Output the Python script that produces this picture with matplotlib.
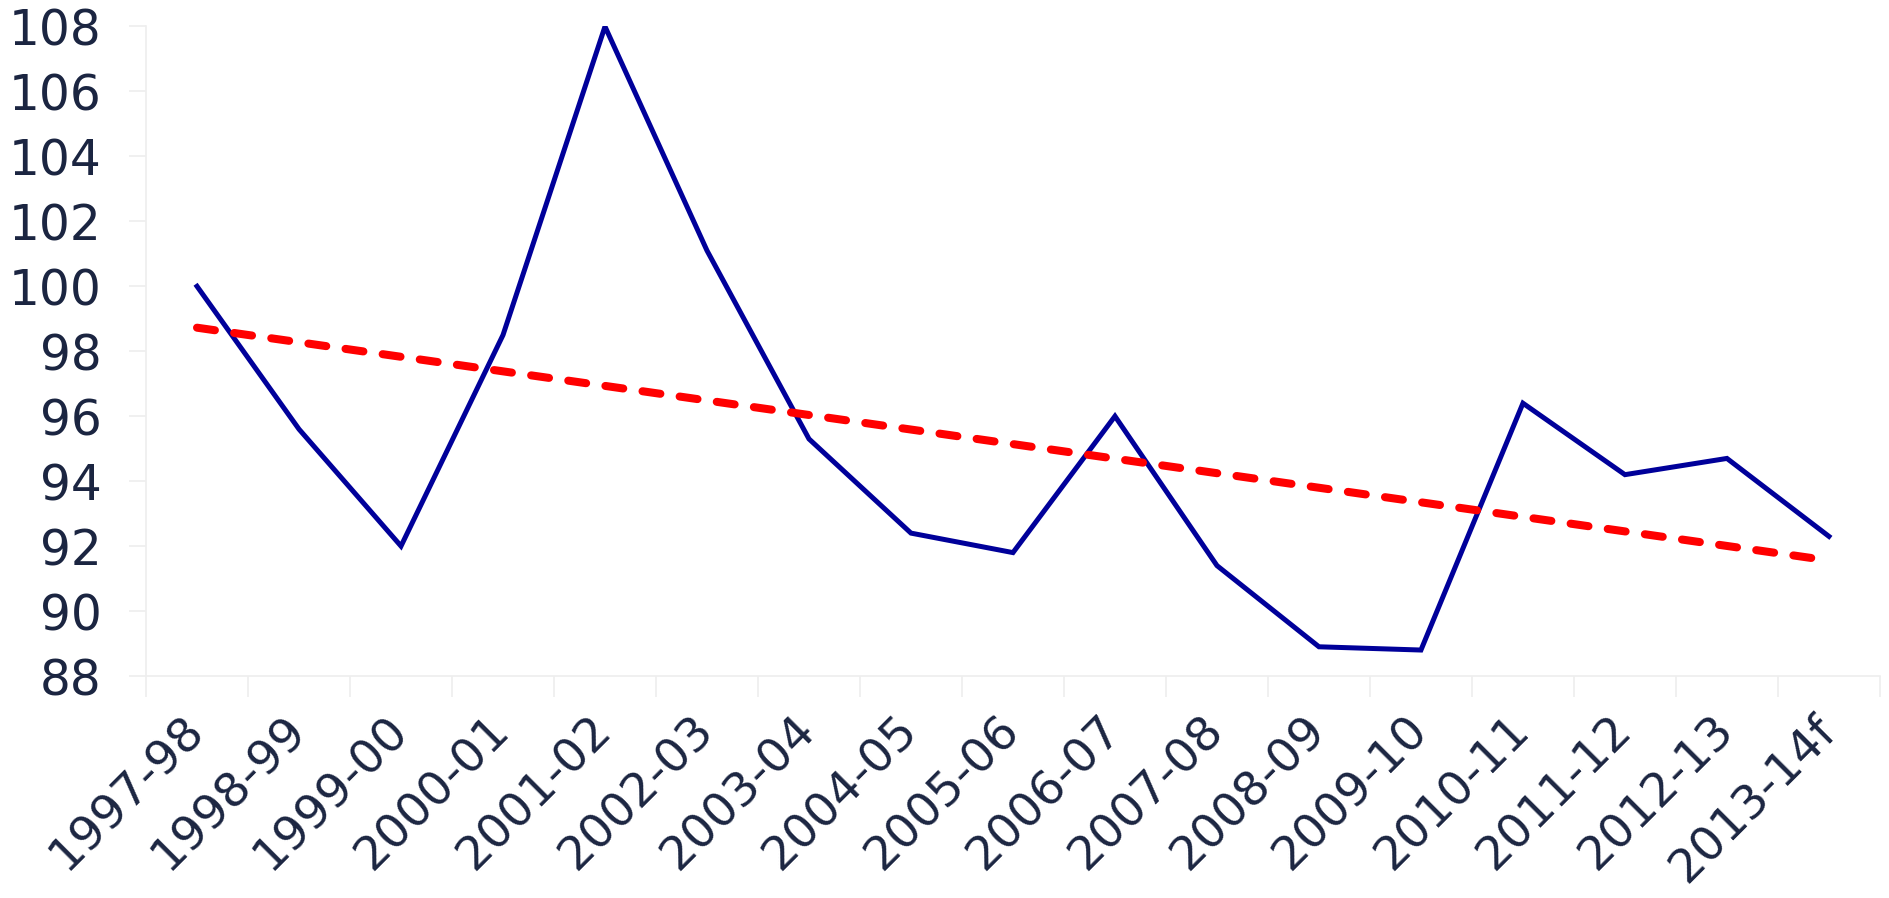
import numpy as np
import matplotlib.pyplot as plt

# indice annuel et droite de tendance
saisons = ["1997-98", "1998-99", "1999-00", "2000-01", "2001-02", "2002-03",
           "2003-04", "2004-05", "2005-06", "2006-07", "2007-08", "2008-09",
           "2009-10", "2010-11", "2011-12", "2012-13", "2013-14f"]
indice = [100.0, 95.6, 92.0, 98.5, 108.0, 101.1, 95.3, 92.4, 91.8, 96.0,
          91.4, 88.9, 88.8, 96.4, 94.2, 94.7, 92.3]
graduations_y = [88, 90, 92, 94, 96, 98, 100, 102, 104, 106, 108]

couleur_texte = "#1b2541"
couleur_axe = "#eeeeee"

plt.rcParams['lines.scale_dashes'] = False

fig = plt.figure(figsize=(18.89, 8.98), dpi=100)
ax = fig.add_axes([0.0773, 0.2472, 0.9179, 0.7233])

x = np.arange(len(saisons))
ax.plot(x, indice, color="#00009a", linewidth=3.6, solid_joinstyle="miter", zorder=3)

# tendance lineaire (moindres carres)
pente, origine = np.polyfit(x, indice, 1)
tendance, = ax.plot(x, pente * x + origine, color="#ff0000", linewidth=5.8,
                    dash_capstyle="round", zorder=4)
tendance.set_dashes([13, 14])

ax.set_xlim(-0.5, len(saisons) - 0.5)
ax.set_ylim(88, 108)
ax.set_yticks(graduations_y)
ax.set_yticklabels([str(v) for v in graduations_y])

ax.set_xticks(x)
ax.set_xticklabels(saisons, rotation=45, ha="right", va="center", rotation_mode="anchor")
ax.set_xticks(np.arange(-0.5, len(saisons)), minor=True)

ax.tick_params(axis="y", length=12, width=1.2, color=couleur_axe, pad=20,
               labelsize=35, labelcolor=couleur_texte)
ax.tick_params(axis="x", which="major", length=0, pad=34,
               labelsize=34, labelcolor=couleur_texte)
ax.tick_params(axis="x", which="minor", length=15, width=1.2, color=couleur_axe)

for cote in ["top", "right"]:
    ax.spines[cote].set_visible(False)
for cote in ["left", "bottom"]:
    ax.spines[cote].set_color(couleur_axe)
    ax.spines[cote].set_linewidth(1.2)

fig.savefig("out.png", dpi=100)
